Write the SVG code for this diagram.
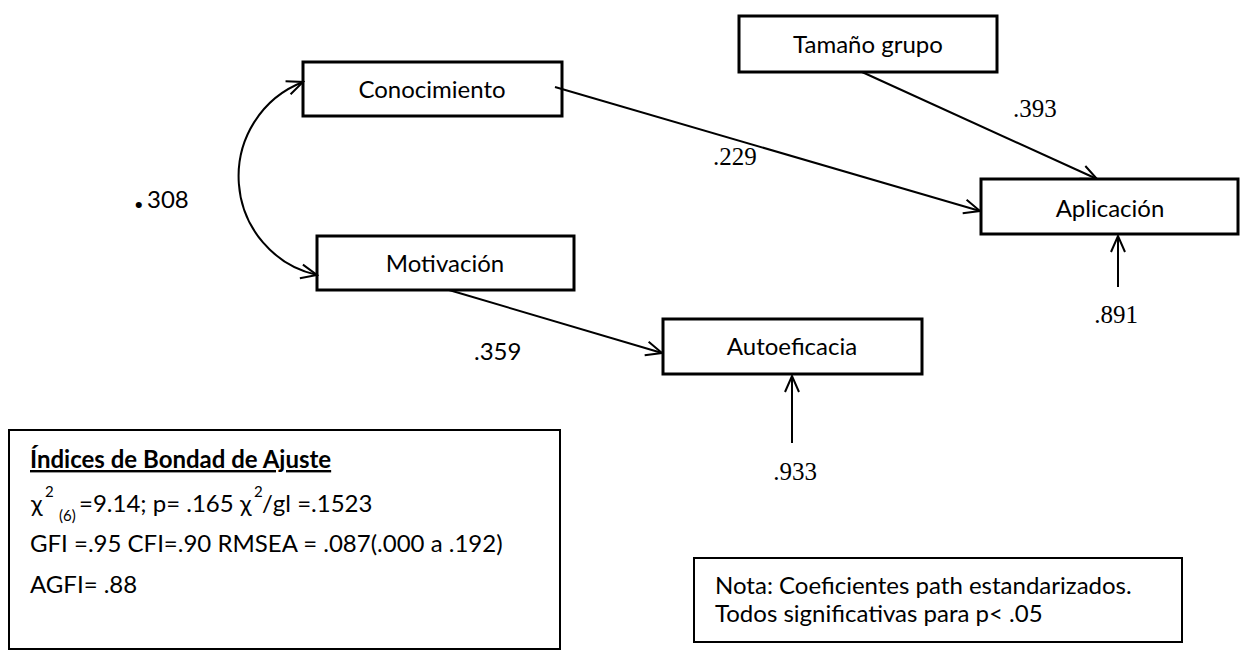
<svg xmlns="http://www.w3.org/2000/svg" width="1240" height="652" viewBox="0 0 1240 652">
<style>
.box{fill:#fff;stroke:#000;stroke-width:3}
.frame{fill:#fff;stroke:#000;stroke-width:2}
.lbl{font-family:Lato,"Liberation Sans",sans-serif;font-size:24px;fill:#000}
.num{font-family:"Liberation Serif",serif;font-size:25px;fill:#000}
.con{fill:none;stroke:#000;stroke-width:2}
.sup{font-size:15px}
</style>
<defs>
<marker id="ah" viewBox="0 0 20 20" refX="18" refY="10" markerWidth="20" markerHeight="20" markerUnits="userSpaceOnUse" orient="auto-start-reverse">
<path d="M2,3 L18,10 L2,17" fill="none" stroke="#000" stroke-width="2"/>
</marker>
</defs>
<rect width="1240" height="652" fill="#fff"/>
<g id="node-tamano">
<rect class="box" x="739" y="16" width="258" height="56"/>
<text class="lbl" x="868" y="53" text-anchor="middle">Tamaño grupo</text>
</g>
<g id="node-conocimiento">
<rect class="box" x="303" y="62" width="259" height="54"/>
<text class="lbl" x="432" y="98" text-anchor="middle">Conocimiento</text>
</g>
<g id="node-motivacion">
<rect class="box" x="317" y="236" width="257" height="54"/>
<text class="lbl" x="445" y="272" text-anchor="middle">Motivación</text>
</g>
<g id="node-aplicacion">
<rect class="box" x="981" y="179" width="257" height="55"/>
<text class="lbl" x="1110" y="217" text-anchor="middle">Aplicación</text>
</g>
<g id="node-autoeficacia">
<rect class="box" x="663" y="319" width="259" height="55"/>
<text class="lbl" x="792" y="355" text-anchor="middle">Autoeficacia</text>
</g>
<g id="connectors">
<path class="con" d="M317,275 A100,101 0 0 1 303,82" marker-start="url(#ah)" marker-end="url(#ah)"/>
<line class="con" x1="555" y1="87" x2="980" y2="211" marker-end="url(#ah)"/>
<line class="con" x1="862" y1="72" x2="1097" y2="179" marker-end="url(#ah)"/>
<line class="con" x1="1118" y1="287" x2="1118" y2="236" marker-end="url(#ah)"/>
<line class="con" x1="449" y1="290" x2="662" y2="353" marker-end="url(#ah)"/>
<line class="con" x1="792" y1="443" x2="792" y2="376" marker-end="url(#ah)"/>
</g>
<g id="labels">
<text class="num" x="713" y="165">.229</text>
<text class="num" x="1013" y="117">.393</text>
<text class="num" x="1116" y="323" text-anchor="middle">.891</text>
<text class="num" x="795" y="480" text-anchor="middle">.933</text>
<text class="lbl" x="474" y="360">.359</text>
<text class="lbl" x="134" y="208"><tspan font-size="40" font-weight="bold">.</tspan><tspan x="147">308</tspan></text>
</g>
<g id="fit-box">
<rect class="frame" x="9" y="430" width="551" height="219"/>
<text class="lbl" x="30" y="468" font-weight="bold" text-decoration="underline">Índices de Bondad de Ajuste</text>
<text class="lbl" y="512"><tspan x="31">χ</tspan><tspan class="sup" x="45" y="497">2</tspan><tspan class="sup" x="59" y="521">(6)</tspan><tspan x="79" y="512">=9.14; p= .165</tspan><tspan x="240">χ</tspan><tspan class="sup" x="254" y="497">2</tspan><tspan x="262" y="512">/gl =.1523</tspan></text>
<text class="lbl" x="30" y="552">GFI =.95 CFI=.90 RMSEA = .087(.000 a .192)</text>
<text class="lbl" x="30" y="593">AGFI= .88</text>
</g>
<g id="nota-box">
<rect class="frame" x="694" y="558" width="488" height="84"/>
<text class="lbl" x="715" y="594">Nota: Coeficientes path estandarizados.</text>
<text class="lbl" x="715" y="622">Todos significativas para p&lt; .05</text>
</g>
</svg>
